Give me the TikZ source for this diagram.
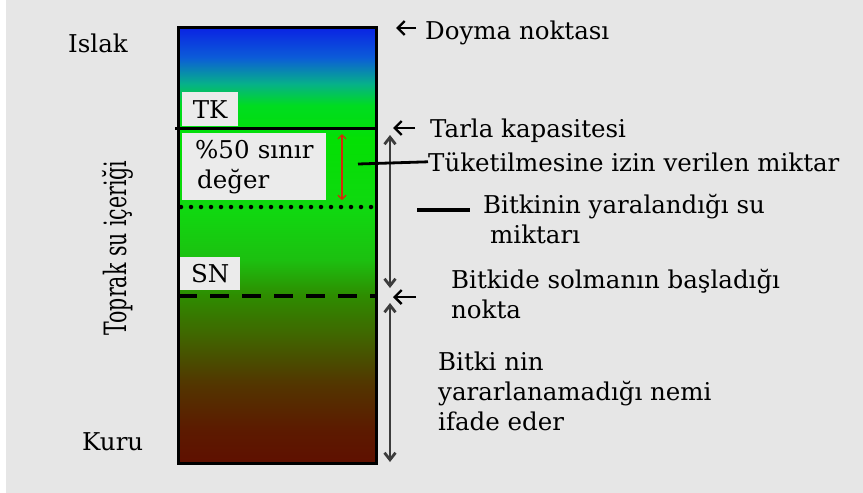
\documentclass[tikz,border=0pt]{standalone}
\usepackage{fontspec}
\usepackage{graphicx}
\setmainfont{DejaVu Serif}
\usetikzlibrary{arrows.meta}

\definecolor{panel}{HTML}{E6E6E6}
\definecolor{boxfill}{HTML}{EBEBEB}
\definecolor{spangray}{HTML}{3C3C3C}
\definecolor{limitred}{HTML}{D42A0A}
% soil column colours, top to bottom
\definecolor{soilA}{HTML}{0A22E4}
\definecolor{soilB}{HTML}{0C5CD8}
\definecolor{soilC}{HTML}{06B08A}
\definecolor{soilD}{HTML}{00DC20}
\definecolor{soilE}{HTML}{04E004}
\definecolor{soilF}{HTML}{10D810}
\definecolor{soilG}{HTML}{1CC010}
\definecolor{soilH}{HTML}{2E8C00}
\definecolor{soilI}{HTML}{406600}
\definecolor{soilJ}{HTML}{533500}
\definecolor{soilK}{HTML}{5C1A00}
\definecolor{soilL}{HTML}{5F1000}

\pgfdeclareverticalshading{soilwater}{100bp}{%
  color(0bp)=(soilL); color(25bp)=(soilL); color(28.8bp)=(soilK);
  color(34bp)=(soilJ); color(39.7bp)=(soilI); color(44.2bp)=(soilH);
  color(48.3bp)=(soilG); color(54bp)=(soilF); color(62bp)=(soilE);
  color(66bp)=(soilD); color(68.5bp)=(soilC); color(71.5bp)=(soilB);
  color(75bp)=(soilA); color(100bp)=(soilA)}

\begin{document}
\begin{tikzpicture}[x=1pt,y=-1pt,
  every node/.style={inner sep=0pt, font=\fontsize{24.5}{30}\selectfont},
  labelbox/.style={fill=boxfill, anchor=north west},
  levelarrow/.style={-{Straight Barb[length=7pt,width=14pt]}, line width=2.4pt},
  spanarrow/.style={{Straight Barb[length=7pt,width=11pt]}-{Straight Barb[length=7pt,width=11pt]},
    line width=2.8pt, draw=spangray}]

% background
\fill[white] (0,0) rectangle (863,493);
\fill[panel] (6,0) rectangle (863,493);

% soil column
\shade[shading=soilwater] (178,27) rectangle (376,463);
\draw[line width=3pt] (175,128) -- (376,128);
\draw[line width=4.5pt, line cap=round, dash pattern=on 0pt off 10pt] (181,207) -- (376,207);
\draw[line width=4.5pt, dash pattern=on 19pt off 13pt] (178,296) -- (376,296);
\draw[line width=3pt] (178,27) rectangle (376,463);

\node[labelbox, minimum width=56pt, minimum height=34pt] (tk) at (182,92) {TK};
\node[labelbox, minimum height=67pt, text width=124pt, inner xsep=10pt, align=left] (limit) at (182,133) {\hspace*{3pt}\%50 sınır\\\hspace*{5pt}değer};
\node[labelbox, minimum width=60pt, minimum height=33pt] (sn) at (180,257) {SN};

\coordinate (limtop) at (342,134);
\coordinate (limbot) at (342,200);
\draw[limitred, line width=1.2pt, {Straight Barb[length=4pt,width=8pt]}-{Straight Barb[length=4pt,width=8pt]}] (limtop) -- (limbot);

% left side
\node[anchor=base west] (wet) at (68,52) {Islak};
\node[anchor=base west] (dry) at (82,450) {Kuru};
\node[rotate=90] (axis) at (118,248) {\scalebox{1}[1.5]{\fontsize{20.5}{24}\selectfont Toprak su içeriği}};

% right side (multi-line nodes sit on their last baseline)
\node[anchor=base west] (sat) at (425,39) {Doyma noktası};
\node[anchor=base west] (fcap) at (430,137) {Tarla kapasitesi};
\node[anchor=base west] (allow) at (428,171) {Tüketilmesine izin verilen miktar};
\node[anchor=base west, align=left] (damage) at (483,243) {Bitkinin yaralandığı su\\\hspace*{7pt}miktarı};
\node[anchor=base west, align=left] (wilt) at (451,318) {Bitkide solmanın başladığı\\nokta};
\node[anchor=base west, align=left] (unavail) at (438,430) {Bitki nin\\yararlanamadığı nemi\\ifade eder};

\coordinate (sattip) at (396,28);
\coordinate (fctip) at (393,128);
\coordinate (wptip) at (393,297);
\draw[levelarrow] (sattip) ++(20,0) -- (sattip);
\draw[levelarrow] (fctip) ++(22,0) -- (fctip);
\draw[levelarrow] (wptip) ++(23,0) -- (wptip);

\coordinate (fctop) at (390,135);
\coordinate (wpup) at (390,288);
\coordinate (wpdown) at (390,303);
\coordinate (dryend) at (390,462);
\draw[spanarrow] (fctop) -- (wpup);
\draw[spanarrow] (wpdown) -- (dryend);

\coordinate (allowfoot) at (358,164);
\draw[line width=2.8pt] (allowfoot) -- (allow.west);
\coordinate (damagefoot) at (417,210);
\draw[line width=4.5pt] (damagefoot) -- ++(53,0);
\end{tikzpicture}
\end{document}
